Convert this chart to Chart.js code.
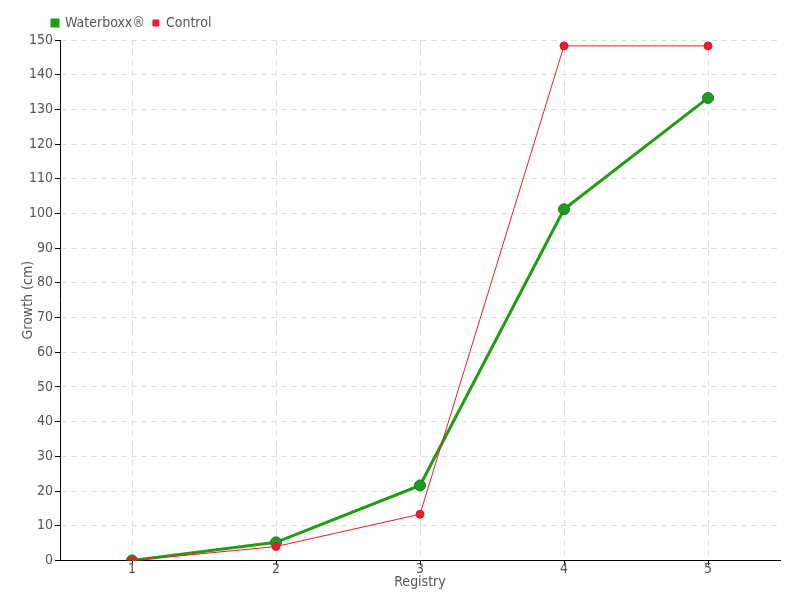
<!DOCTYPE html>
<html>
<head>
<meta charset="utf-8">
<script src="https://cdn.jsdelivr.net/npm/chart.js@4"></script>
<style>
  body { margin: 0; background: #fff; }
  #wrap { width: 800px; height: 600px; }
</style>
</head>
<body>
<div id="wrap"><canvas id="growth-chart" width="800" height="600"></canvas></div>
<script>
// values
const registries = ["1", "2", "3", "4", "5"];
const waterboxx = [0, 5.2, 21.6, 101.2, 133.3];
const control = [0, 4, 13.3, 148.3, 148.3];
const yTicks = [0, 10, 20, 30, 40, 50, 60, 70, 80, 90, 100, 110, 120, 130, 140, 150];

const FONT = "'Liberation Sans Narrow', 'DejaVu Sans Condensed', sans-serif";
const ctx = document.getElementById("growth-chart").getContext("2d");

// push the legend to the right so it starts above the y axis
const legendShift = {
  id: "legendShift",
  afterLayout(chart) {
    chart.legend.left += 24;
    chart.legend.right += 24;
  },
};

new Chart(ctx, {
  type: "line",
  data: {
    labels: registries,
    datasets: [
      {
        label: "Waterboxx®",
        data: waterboxx,
        borderColor: "#1f9e12",
        backgroundColor: "#1f9e12",
        pointBackgroundColor: "#229a22",
        pointBorderColor: "#1a7a1a",
        borderWidth: 3,
        pointRadius: 5.5,
        pointBorderWidth: 1,
        order: 1,
      },
      {
        label: "Control",
        data: control,
        borderColor: "#ee1c2e",
        backgroundColor: "#ee1c2e",
        pointBackgroundColor: "#ee1c2e",
        pointBorderColor: "#d81a2a",
        borderWidth: 1,
        pointRadius: 4,
        pointBorderWidth: 1,
        order: 0,
      },
    ],
  },
  plugins: [legendShift],
  options: {
    responsive: false,
    animation: false,
    layout: { padding: { left: 20, right: 20, top: 8, bottom: 9 } },
    plugins: {
      tooltip: { enabled: false },
      legend: {
        position: "top",
        align: "start",
        labels: {
          boxWidth: 6,
          boxHeight: 6,
          padding: 8,
          color: "#555",
          font: { family: FONT, size: 14 },
          sort: (a, b) => a.datasetIndex - b.datasetIndex,
        },
      },
    },
    scales: {
      x: {
        offset: true,
        border: { color: "#000", width: 1, dash: [6, 4] },
        grid: {
          color: "#e0e0e0",
          tickColor: "#000",
          tickBorderDash: [],
          tickLength: 5,
          offset: false,
        },
        ticks: { color: "#555", font: { family: FONT, size: 14 }, padding: -4 },
        title: {
          display: true,
          text: "Registry",
          color: "#555",
          font: { family: FONT, size: 14 },
          padding: { top: 0, bottom: 0 },
        },
      },
      y: {
        min: 0,
        max: 150,
        afterBuildTicks: axis => { axis.ticks = yTicks.map(v => ({ value: v })); },
        afterFit: axis => { axis.width = 40; },
        border: { color: "#000", width: 1, dash: [6, 4] },
        grid: {
          color: "#e0e0e0",
          tickColor: "#000",
          tickBorderDash: [],
          tickLength: 5,
        },
        ticks: { color: "#555", font: { family: FONT, size: 14 }, padding: 2 },
        title: {
          display: true,
          text: "Growth (cm)",
          color: "#555",
          font: { family: FONT, size: 14 },
          padding: 0,
        },
      },
    },
  },
});
</script>
</body>
</html>
